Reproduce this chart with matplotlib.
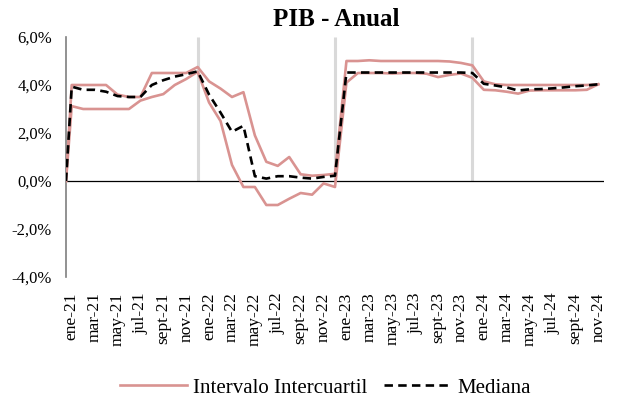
import matplotlib
matplotlib.use("Agg")
import matplotlib.pyplot as plt
import numpy as np

# monthly labels ene-21 .. nov-24
MONTHS = ["ene", "feb", "mar", "abr", "may", "jun", "jul", "ago", "sept", "oct", "nov", "dic"]
YEARS = ["21", "22", "23", "24"]
LABELS = [f"{m}-{y}" for y in YEARS for m in MONTHS][:47]

# series start from zero at the left edge of the axis
START_VALUE = 0.0

UPPER = [4.0, 4.0, 4.0, 4.0, 3.6, 3.5, 3.5, 4.5, 4.5, 4.5, 4.5, 4.75,
         4.15, 3.85, 3.5, 3.7, 1.9, 0.8, 0.63, 1.0, 0.28, 0.22, 0.25, 0.3,
         5.0, 5.0, 5.03, 5.0, 5.0, 5.0, 5.0, 5.0, 5.0, 4.98, 4.92, 4.82,
         4.15, 4.03, 4.0, 4.0, 4.0, 4.0, 4.0, 4.0, 4.0, 4.0, 4.03]
LOWER = [3.12, 3.0, 3.0, 3.0, 3.0, 3.0, 3.35, 3.5, 3.62, 4.0, 4.25, 4.55,
         3.27, 2.5, 0.67, -0.25, -0.25, -1.0, -1.0, -0.74, -0.5, -0.57, -0.1, -0.25,
         4.1, 4.5, 4.5, 4.5, 4.48, 4.5, 4.5, 4.47, 4.33, 4.42, 4.48, 4.3,
         3.8, 3.78, 3.72, 3.64, 3.77, 3.78, 3.78, 3.78, 3.78, 3.8, 4.03]
MEDIAN = [3.93, 3.8, 3.8, 3.72, 3.54, 3.5, 3.5, 4.0, 4.2, 4.35, 4.45, 4.57,
          3.6, 2.85, 2.05, 2.3, 0.2, 0.1, 0.2, 0.2, 0.14, 0.1, 0.17, 0.22,
          4.52, 4.52, 4.52, 4.52, 4.52, 4.52, 4.52, 4.52, 4.52, 4.52, 4.52, 4.5,
          4.05, 3.98, 3.9, 3.77, 3.82, 3.83, 3.86, 3.9, 3.95, 3.98, 4.03]

# year-end markers (dic-21, dic-22, dic-23)
YEAR_ENDS = ["dic-21", "dic-22", "dic-23"]

PINK = "#d99391"
FONT = "Liberation Serif"

plt.rcParams["font.family"] = FONT

fig = plt.figure(figsize=(6.2, 4.05), dpi=100)
ax = fig.add_axes([66 / 620, 128 / 405, 538 / 620, 240 / 405])

n = len(LABELS)
x = np.concatenate([[-0.5], np.arange(n)])


def with_start(vals):
    return np.concatenate([[START_VALUE], vals])


# grey year separators from 0 up to the top
for lab in YEAR_ENDS:
    ax.vlines(LABELS.index(lab), 0, 6, color="#d9d9d9", lw=2.2, zorder=1)

ax.axhline(0, color="black", lw=0.9, zorder=2)

ax.plot(x, with_start(UPPER), color=PINK, lw=1.9, zorder=3, label="Intervalo Intercuartil")
ax.plot(x, with_start(LOWER), color=PINK, lw=1.9, zorder=3)
ax.plot(x, with_start(MEDIAN), color="black", lw=1.9, ls=(0, (3.2, 2.0)), zorder=4, label="Mediana")

ax.set_xlim(-0.5, n - 0.5)
ax.set_ylim(-4, 6)
ax.set_yticks(np.arange(-4, 7, 2))
ax.set_yticklabels([f"{v:.1f}%".replace(".", ",") for v in np.arange(-4, 7, 2)], fontsize=12)
ax.set_xticks(np.arange(0, n, 2))
ax.set_xticklabels(LABELS[::2], rotation=90, fontsize=12.5)
ax.tick_params(axis="both", length=0)
ax.tick_params(axis="x", pad=11)
ax.tick_params(axis="y", pad=10)

for s in ["top", "right", "bottom"]:
    ax.spines[s].set_visible(False)
ax.spines["left"].set_color("#7f7f7f")
ax.spines["left"].set_linewidth(1.2)

fig.text(0.542, 0.952, "PIB - Anual", ha="center", va="center", fontsize=18, fontweight="bold")

fig.legend(loc="center", bbox_to_anchor=(0.525, 0.042), ncol=2, frameon=False,
           fontsize=15, handlelength=3.2, columnspacing=0.8, handletextpad=0.3)

fig.savefig("out.png", dpi=100)
